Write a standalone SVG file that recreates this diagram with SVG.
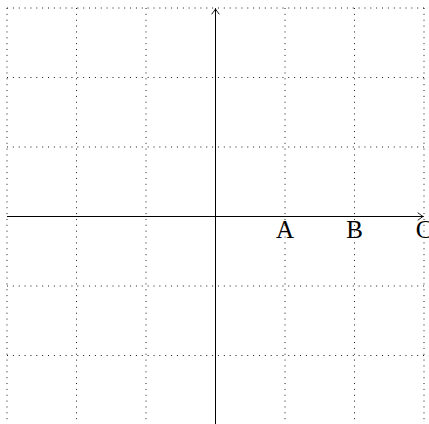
<svg xmlns="http://www.w3.org/2000/svg" width="429" height="424" viewBox="0 0 429 424">
<style>
.grid{stroke:#000;stroke-width:0.9;stroke-dasharray:1 4.86;fill:none}
.axis{stroke:#000;stroke-width:1;fill:none}
.head{stroke:#000;stroke-width:0.9;fill:none;stroke-linecap:round}
.lbl{font-family:"Liberation Serif","DejaVu Serif",serif;font-size:25px;fill:#000;text-anchor:middle}
</style>
<defs>
<marker id="arr" viewBox="-6 -5 7 10" refX="0" refY="0" markerWidth="7" markerHeight="10" markerUnits="userSpaceOnUse" orient="auto">
<path class="head" d="M-5,-3.6 Q-1.5,-1 0,0 Q-1.5,1 -5,3.6"/>
</marker>
</defs>
<g id="grid">
<path class="grid" d="M7,8V424 M76.5,8V424 M146,8V424 M215.5,8V424 M285,8V424 M354.5,8V424 M424,8V424"/>
<path class="grid" d="M7,8H429 M7,77.5H429 M7,147H429 M7,216.5H429 M7,286H429 M7,355.5H429"/>
</g>
<g id="connectors">
<path class="axis" d="M7,216.5H423" marker-end="url(#arr)"/>
<path class="axis" d="M215.5,424V9" marker-end="url(#arr)"/>
</g>
<g id="A"><text class="lbl" x="285" y="238">A</text></g>
<g id="B"><text class="lbl" x="354.5" y="238">B</text></g>
<g id="C"><text class="lbl" x="424" y="238">C</text></g>
</svg>
